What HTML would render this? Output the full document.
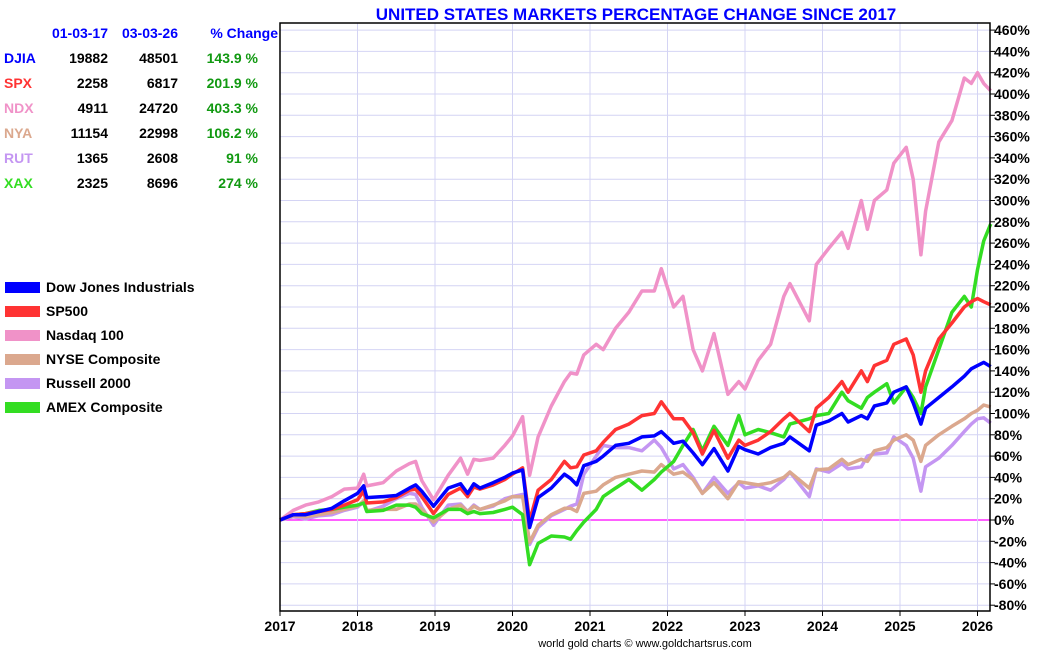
<!DOCTYPE html>
<html><head><meta charset="utf-8"><style>
body{margin:0;background:#fff;}
svg{display:block;font-family:"Liberation Sans",Arial,sans-serif;}
</style></head><body>
<svg id="chart" width="1050" height="650" viewBox="0 0 1050 650">
<text x="636" y="20" text-anchor="middle" font-size="17" font-weight="bold" fill="#0000ff">UNITED STATES MARKETS PERCENTAGE CHANGE SINCE 2017</text>
<g id="grid"></g>
<g id="series"></g>
<g id="axes"></g>
<g id="table"></g>
<g id="legend"></g>
<text x="645" y="647" text-anchor="middle" font-size="11" fill="#000">world gold charts © www.goldchartsrus.com</text>
</svg>
<script>
const times=[2017.0,2017.17,2017.33,2017.5,2017.67,2017.83,
2018.0,2018.08,2018.12,2018.33,2018.5,2018.67,2018.75,2018.83,2018.98,
2019.17,2019.33,2019.42,2019.5,2019.58,2019.75,2019.9,
2020.0,2020.13,2020.22,2020.33,2020.5,2020.67,2020.75,2020.83,2020.92,
2021.08,2021.17,2021.33,2021.5,2021.67,2021.83,2021.92,
2022.08,2022.2,2022.33,2022.45,2022.6,2022.78,2022.92,
2023.0,2023.17,2023.33,2023.5,2023.58,2023.83,2023.92,
2024.08,2024.25,2024.33,2024.5,2024.58,2024.67,2024.83,2024.92,
2025.08,2025.17,2025.27,2025.33,2025.5,2025.67,2025.83,2025.92,2026.0,2026.08,2026.17];
const ndx=[0,9,14,17,22,29, 30,43,32,35,46,53,55,37,19, 42,58,43,57,56,58,70, 79,97,42,78,107,130,138,137,155, 165,160,180,195,215,215,236, 200,210,160,140,175,118,130, 123,150,165,210,222,187,240, 255,270,255,300,273,300,310,335, 350,320,249,290,355,375,415,410,420,410,403];
const spx=[0,5,6,8,10,14, 19,27,16,17,21,28,29,22,6, 24,30,22,31,29,33,38, 43,49,-1,28,38,55,49,50,61, 65,73,85,90,98,100,111, 95,95,82,62,84,58,75, 70,75,83,95,100,83,105, 115,130,120,140,130,145,150,165, 170,155,120,140,170,185,200,205,208,205,202];
const djia=[0,5,5,8,11,18, 25,32,21,22,23,30,33,27,13, 30,34,25,34,30,35,40, 44,47,-7,21,30,43,39,33,51, 55,60,70,72,78,79,83, 72,74,63,52,67,46,69, 66,62,68,72,78,65,89, 93,100,92,98,95,107,110,120, 125,110,90,105,115,125,135,142,145,148,144];
const nya=[0,4,3,5,7,10, 13,18,9,10,10,15,15,10,-2, 10,14,8,13,10,14,18, 22,22,-21,-5,5,11,11,8,25, 27,33,40,43,46,45,52, 43,45,38,25,35,20,36, 35,33,35,40,45,30,47, 48,57,52,57,55,65,68,75, 80,75,55,70,80,88,95,100,103,108,106];
const rut=[0,3,1,4,5,9, 12,17,8,13,20,25,24,12,-5, 14,15,8,14,10,13,20, 22,24,-23,-7,4,10,13,15,43, 60,70,68,68,65,75,68, 48,52,40,25,40,25,35, 30,32,28,38,45,22,48, 45,53,48,50,60,62,63,78, 70,58,27,50,58,70,83,90,95,96,91];
const xax=[0,5,6,9,10,12, 14,16,8,9,14,14,12,6,2, 10,10,6,8,6,7,10, 12,5,-42,-22,-15,-16,-18,-10,-2, 10,22,30,38,28,38,45, 55,70,85,65,88,70,98, 80,85,82,78,90,95,98, 100,120,112,105,115,120,128,110, 125,115,100,125,160,195,210,200,235,262,278];
const yTicks=[460,440,420,400,380,360,340,320,300,280,260,240,220,200,180,160,140,120,100,80,60,40,20,0,-20,-40,-60,-80];
const xTicks=[2017,2018,2019,2020,2021,2022,2023,2024,2025,2026];

const NS="http://www.w3.org/2000/svg";
const L=280,R=990,T=23,B=611;
function xs(t){return L+(t-2017)*77.5;}
function ys(v){return 520-v*1.065;}
function mk(tag,attrs,parent){const e=document.createElementNS(NS,tag);for(const k in attrs)e.setAttribute(k,attrs[k]);parent.appendChild(e);return e;}
const grid=document.getElementById('grid'),axes=document.getElementById('axes'),sg=document.getElementById('series');

yTicks.forEach(v=>{
  const g=mk('line',{x1:L,x2:R,y1:ys(v),y2:ys(v),stroke:v===0?'#ff00ff':'#d4d4f4','stroke-width':v===0?1.2:1},grid);
  
  
  const tk=mk('line',{x1:R,x2:R+5,y1:ys(v),y2:ys(v),stroke:'#000','stroke-width':1},axes);
  
  
  const tx=mk('text',{x:R+4,y:ys(v)+5,'font-size':14,'font-weight':'bold',fill:'#000'},axes);
  tx.textContent=v+'%';
  
  
});
xTicks.forEach(t=>{
  const g=mk('line',{x1:xs(t),x2:xs(t),y1:T,y2:B,stroke:'#d4d4f4','stroke-width':1},grid);
  
  
  const tk=mk('line',{x1:xs(t),x2:xs(t),y1:B,y2:B+5,stroke:'#000'},axes);
  
  
  const tx=mk('text',{x:xs(t),y:631,'font-size':14,'font-weight':'bold','text-anchor':'middle',fill:'#000'},axes);
  tx.textContent=t;
  
  
});
const frame=mk('rect',{x:L,y:T,width:R-L,height:B-T,fill:'none',stroke:'#000','stroke-width':1.5},axes);



const series=[
 {name:'rut-line',data:rut,color:'#c496f2'},
 {name:'nya-line',data:nya,color:'#dba88e'},
 {name:'ndx-line',data:ndx,color:'#f092c8'},
 {name:'xax-line',data:xax,color:'#33dd22'},
 {name:'spx-line',data:spx,color:'#ff3333'},
 {name:'djia-line',data:djia,color:'#0000ff'}];
series.forEach(s=>{
  const d=s.data.map((v,i)=>(i?'L':'M')+xs(times[i]).toFixed(1)+' '+ys(v).toFixed(1)).join(' ');
  const p=mk('path',{d:d,fill:'none',stroke:s.color,'stroke-width':3.5,'stroke-linejoin':'round'},sg);
  
  
});

const tbl=document.getElementById('table');
const heads=[['01-03-17',108],['03-03-26',178],['% Change',278]];
heads.forEach(h=>{
  const t=mk('text',{x:h[1],y:38,'font-size':14,'font-weight':'bold','text-anchor':'end',fill:'#0000ff'},tbl);
  t.textContent=h[0];
  
  
});
const rows=[['DJIA','19882','48501','143.9 %','#0000ff'],['SPX','2258','6817','201.9 %','#ff3333'],['NDX','4911','24720','403.3 %','#f092c8'],['NYA','11154','22998','106.2 %','#dba88e'],['RUT','1365','2608','91 %','#c496f2'],['XAX','2325','8696','274 %','#33dd22']];
rows.forEach((r,i)=>{
  const y=63+i*25;
  const a=mk('text',{x:4,y:y,'font-size':14,'font-weight':'bold',fill:r[4]},tbl);a.textContent=r[0];
  
  
  const b=mk('text',{x:108,y:y,'font-size':14,'font-weight':'bold','text-anchor':'end',fill:'#000'},tbl);b.textContent=r[1];
  
  
  const c=mk('text',{x:178,y:y,'font-size':14,'font-weight':'bold','text-anchor':'end',fill:'#000'},tbl);c.textContent=r[2];
  
  
  const d=mk('text',{x:258,y:y,'font-size':14,'font-weight':'bold','text-anchor':'end',fill:'#119911'},tbl);d.textContent=r[3];
  
  
});

const lg=document.getElementById('legend');
const leg=[['Dow Jones Industrials','#0000ff'],['SP500','#ff3333'],['Nasdaq 100','#f092c8'],['NYSE Composite','#dba88e'],['Russell 2000','#c496f2'],['AMEX Composite','#33dd22']];
leg.forEach((e,i)=>{
  const y=287+i*24;
  const r=mk('rect',{x:5,y:y-5,width:35,height:11,fill:e[1]},lg);
  
  
  const t=mk('text',{x:46,y:y+5,'font-size':14,'font-weight':'bold',fill:'#000'},lg);t.textContent=e[0];
  
  
});
</script>
</body></html>
